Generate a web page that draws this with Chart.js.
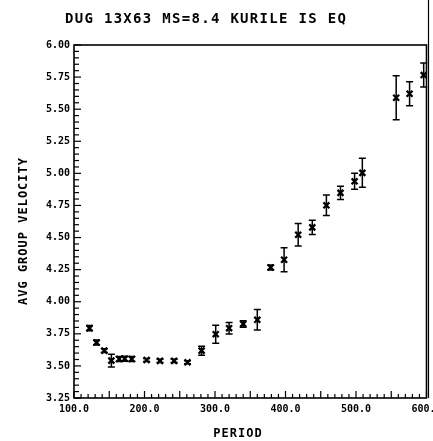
<!DOCTYPE html>
<html>
<head>
<meta charset="utf-8">
<script src="https://cdn.jsdelivr.net/npm/chart.js@4/dist/chart.umd.min.js"></script>
<style>
  html, body { margin: 0; padding: 0; background: #fff; }
  #wrap { width: 433px; height: 441px; position: relative; }
</style>
</head>
<body>
<div id="wrap"><canvas id="c"></canvas></div>
<script>
// Average group velocity vs. period, DUG station, Kurile Is earthquake
const chartTitle = 'DUG 13X63 MS=8.4 KURILE IS EQ';
const xTitle = 'PERIOD';
const yTitle = 'AVG GROUP VELOCITY';

const period   = [122, 132, 143, 153, 164, 172, 182, 203, 222, 242, 261, 281, 301, 320,
                  340, 360, 379, 398, 418, 438, 458, 478, 498, 509, 557, 576, 596];
const velocity = [3.794, 3.682, 3.619, 3.541, 3.554, 3.556, 3.554, 3.546, 3.539, 3.539,
                  3.528, 3.619, 3.747, 3.794, 3.827, 3.859, 4.267, 4.327, 4.522, 4.579,
                  4.751, 4.848, 4.938, 5.004, 5.589, 5.620, 5.766];
const velErr   = [0.02, 0.02, 0.015, 0.05, 0.02, 0.02, 0.02, 0.012, 0.012, 0.012,
                  0.012, 0.035, 0.07, 0.045, 0.025, 0.08, 0.02, 0.094, 0.088, 0.055,
                  0.08, 0.052, 0.062, 0.113, 0.172, 0.094, 0.094];

const xRange = [100, 600];
const yRange = [3.25, 6.00];

const MONO = "'DejaVu Sans Mono', 'Liberation Mono', monospace";

const points = period.map((p, i) => ({ x: p, y: velocity[i] }));

const isMult = (v, step) => Math.abs(v / step - Math.round(v / step)) < 1e-6;

// Frame, inward tick marks and the hand-lettered texts
const decor = {
  id: 'decor',
  afterDraw(chart) {
    const { ctx, chartArea: a, scales } = chart;
    ctx.save();
    ctx.strokeStyle = '#000';
    ctx.lineWidth = 1.6;
    ctx.strokeRect(a.left, a.top, a.right - a.left, a.bottom - a.top);
    // right border continues to the top edge
    ctx.beginPath();
    ctx.moveTo(a.right + 2, 0);
    ctx.lineTo(a.right + 2, a.bottom);
    ctx.lineWidth = 1.2;
    ctx.stroke();

    ctx.lineWidth = 1.2;
    scales.x.ticks.forEach(t => {
      const px = scales.x.getPixelForValue(t.value);
      const len = isMult(t.value, 50) ? 7 : 4;
      ctx.beginPath();
      ctx.moveTo(px, a.bottom);
      ctx.lineTo(px, a.bottom - len);
      ctx.stroke();
    });
    scales.y.ticks.forEach(t => {
      const py = scales.y.getPixelForValue(t.value);
      const len = isMult(t.value, 0.25) ? 7 : 5;
      ctx.beginPath();
      ctx.moveTo(a.left, py);
      ctx.lineTo(a.left + len, py);
      ctx.stroke();
    });

    ctx.fillStyle = '#000';
    ctx.textBaseline = 'alphabetic';
    ctx.textAlign = 'left';
    ctx.font = 'bold 14px ' + MONO;
    ctx.letterSpacing = '1.3px';
    ctx.fillText(chartTitle, 65, 23);

    ctx.font = 'bold 12px ' + MONO;
    ctx.letterSpacing = '1px';
    ctx.textAlign = 'center';
    ctx.fillText(xTitle, 238, 437);

    ctx.translate(27, 231);
    ctx.rotate(-Math.PI / 2);
    ctx.fillText(yTitle, 0, 0);
    ctx.restore();
  }
};

// Vertical error bars with short caps
const errorBars = {
  id: 'errorBars',
  afterDatasetsDraw(chart) {
    const { ctx, scales } = chart;
    ctx.save();
    ctx.strokeStyle = '#000';
    ctx.lineWidth = 1.5;
    period.forEach((p, i) => {
      const px = scales.x.getPixelForValue(p);
      const top = scales.y.getPixelForValue(velocity[i] + velErr[i]);
      const bot = scales.y.getPixelForValue(velocity[i] - velErr[i]);
      ctx.beginPath();
      ctx.moveTo(px, top);
      ctx.lineTo(px, bot);
      ctx.moveTo(px - 3.5, top);
      ctx.lineTo(px + 3.5, top);
      ctx.moveTo(px - 3.5, bot);
      ctx.lineTo(px + 3.5, bot);
      ctx.stroke();
    });
    ctx.restore();
  }
};

new Chart(document.getElementById('c'), {
  type: 'scatter',
  data: {
    datasets: [{
      data: points,
      pointStyle: 'crossRot',
      pointRadius: 4.2,
      pointBorderWidth: 2.3,
      borderColor: '#000',
      backgroundColor: '#000'
    }]
  },
  options: {
    responsive: true,
    maintainAspectRatio: false,
    animation: false,
    devicePixelRatio: 1,
    layout: { padding: { top: 45, right: 6, left: 0, bottom: 0 } },
    plugins: { legend: { display: false }, tooltip: { enabled: false }, title: { display: false } },
    scales: {
      x: {
        type: 'linear',
        min: xRange[0], max: xRange[1],
        grid: { display: false, drawTicks: false },
        border: { display: false },
        ticks: {
          stepSize: 10, autoSkip: false, maxRotation: 0, padding: 5,
          color: '#000',
          font: { family: MONO, size: 10, weight: 'bold' },
          callback: v => isMult(v, 100) ? v.toFixed(1) : ''
        },
        afterFit(s) { s.height = 43; s.paddingLeft = 0; s.paddingRight = 0; }
      },
      y: {
        type: 'linear',
        min: yRange[0], max: yRange[1],
        grid: { display: false, drawTicks: false },
        border: { display: false },
        ticks: {
          stepSize: 0.05, autoSkip: false, padding: 4,
          color: '#000',
          font: { family: MONO, size: 10, weight: 'bold' },
          callback: v => isMult(v, 0.25) ? v.toFixed(2) : ''
        },
        afterFit(s) { s.width = 74; s.paddingTop = 0; s.paddingBottom = 0; }
      }
    }
  },
  plugins: [errorBars, decor]
});
</script>
</body>
</html>
